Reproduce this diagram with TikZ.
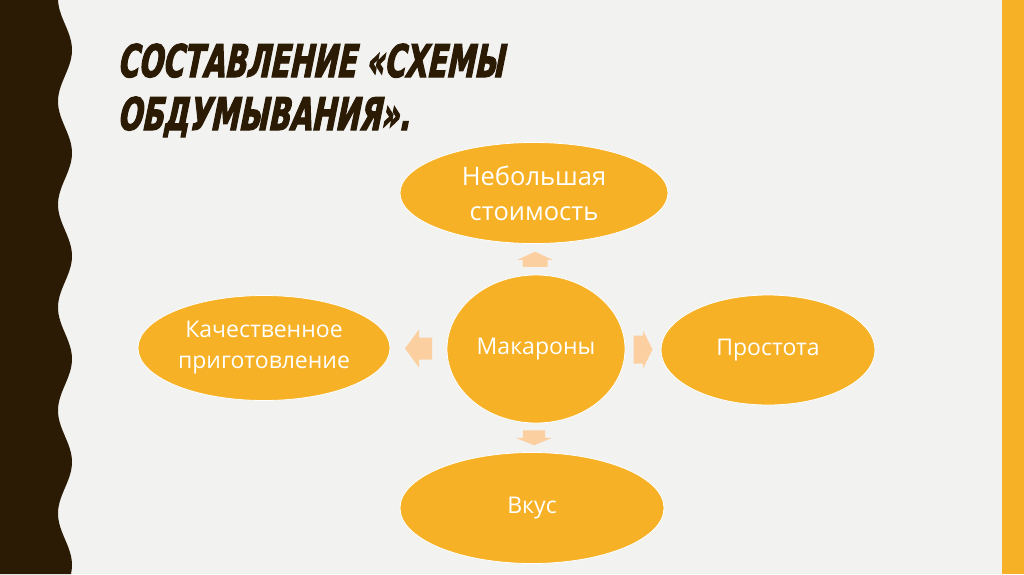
\documentclass[tikz,border=0pt]{standalone}
\usepackage{fontspec}
\setmainfont{Open Sans}
\newfontfamily\titlefont[FakeStretch=0.63,FakeBold=2.5,FakeSlant=0.2]{DejaVu Sans}
\usetikzlibrary{positioning,calc,shapes.geometric}
\definecolor{slidebg}{HTML}{F2F2F0}
\definecolor{bandbrown}{HTML}{2B1B04}
\definecolor{ideaorange}{HTML}{F6B126}
\definecolor{arrowpeach}{HTML}{FBCFA0}
\tikzset{
  idea/.style={ellipse,fill=ideaorange,draw=white,line width=0.8pt,text=white,
    font=\fontsize{23}{31}\selectfont,align=center,inner sep=0pt},
  heading/.style={anchor=base west,text=bandbrown,inner sep=0pt,
    font=\titlefont\bfseries\fontsize{45}{54}\selectfont},
  blockarrow/.style={fill=arrowpeach}
}
\begin{document}
\begin{tikzpicture}[x=1pt,y=-1pt]
\fill[slidebg] (0,0) rectangle (1024,574);
\useasboundingbox (0,0) rectangle (1024,574);
% wavy band on the left, stripe on the right
\fill[bandbrown] (0,0) -- plot[domain=0:574,samples=160,variable=\t] ({65+7*cos(3.4951*(\t-50))},\t) -- (0,574) -- cycle;
\fill[ideaorange] (1002,0) rectangle (1024,574);
% title
\node[heading] (title1) at (117,77) {СОСТАВЛЕНИЕ «СХЕМЫ};
\node[heading] (title2) at (117,130) {ОБДУМЫВАНИЯ».};
% ideas
\node[idea,minimum width=178pt,minimum height=148pt] (mac) at (536,349) {Макароны};
\node[idea,minimum width=268pt,minimum height=101pt,font=\fontsize{25.5}{35}\selectfont] (cost) at (534,193) {Небольшая\\стоимость};
\node[idea,minimum width=252pt,minimum height=105pt] (quality) at (264,348) {Качественное\\приготовление};
\node[idea,minimum width=214pt,minimum height=110pt] (simple) at (768,350) {Простота};
\node[idea,minimum width=264pt,minimum height=111pt] (taste) at (532,508) {Вкус};
% block arrows
\coordinate (upA) at ($(mac.north)!.5!(cost.south)$);
\coordinate (downA) at ($(mac.south)!.5!(taste.north)$);
\coordinate (leftA) at ($(mac.west)!.5!(quality.east)$);
\coordinate (rightA) at ($(mac.east)!.5!(simple.west)$);
\fill[blockarrow] (upA) ++(0,-7.5) -- ++(17.5,8) -- ++(-5,0) -- ++(0,7) -- ++(-25,0) -- ++(0,-7) -- ++(-5,0) -- cycle;
\fill[blockarrow] (downA) ++(0,7.5) -- ++(18.5,-7.5) -- ++(-7.5,0) -- ++(0,-7.5) -- ++(-22,0) -- ++(0,7.5) -- ++(-7.5,0) -- cycle;
\fill[blockarrow] (leftA) ++(-13.5,0) -- ++(14,-19) -- ++(0,8) -- ++(13,0) -- ++(0,22) -- ++(-13,0) -- ++(0,8) -- cycle;
\fill[blockarrow] (rightA) ++(9.5,0) -- ++(-9.5,-19) -- ++(0,5) -- ++(-9.5,0) -- ++(0,28) -- ++(9.5,0) -- ++(0,5) -- cycle;
\end{tikzpicture}
\end{document}
